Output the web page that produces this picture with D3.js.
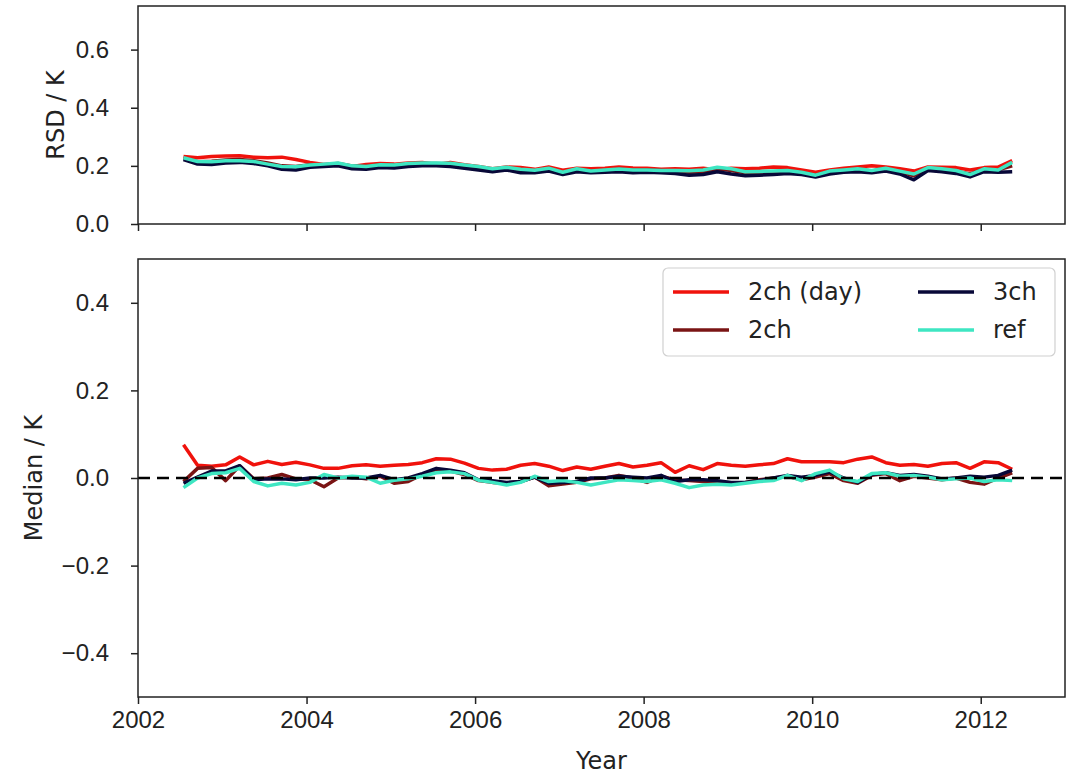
<!DOCTYPE html>
<html>
<head>
<meta charset="utf-8">
<script src="https://cdn.jsdelivr.net/npm/d3@7"></script>
<style>
  body { margin: 0; background: #fff; }
  svg { font-family: "DejaVu Sans", sans-serif; }
  .tick text { font-size: 24px; fill: #222; }
  .tick line { stroke: #222; stroke-width: 1.5; }
</style>
</head>
<body>
<div id="vis"></div>
<script>
// time axis: bimonthly samples from mid 2002 to spring 2012
const N_POINTS = 60;
const YEARS = d3.range(N_POINTS).map((i) => 2002.54 + i / 6);

const SERIES_NAMES = ["2ch (day)", "2ch", "3ch", "ref"];
const SERIES_COLORS = ["#f0120c", "#7a1414", "#080838", "#3ee6c2"];

// top panel: robust standard deviation (K)
const RSD_2CH_DAY = [0.232,0.228,0.232,0.234,0.235,0.230,0.228,0.230,0.222,0.212,
  0.205,0.202,0.198,0.205,0.208,0.206,0.210,0.212,0.205,0.212,
  0.204,0.198,0.190,0.196,0.194,0.188,0.196,0.185,0.192,0.190,
  0.192,0.196,0.193,0.192,0.188,0.190,0.188,0.192,0.186,0.192,
  0.190,0.192,0.196,0.194,0.186,0.178,0.186,0.192,0.196,0.200,
  0.196,0.190,0.182,0.196,0.195,0.194,0.186,0.194,0.196,0.218];
const RSD_2CH = [0.226,0.214,0.216,0.220,0.222,0.218,0.210,0.200,0.198,0.204,
  0.205,0.208,0.200,0.198,0.203,0.202,0.206,0.208,0.208,0.206,
  0.200,0.196,0.186,0.192,0.186,0.182,0.190,0.176,0.188,0.182,
  0.184,0.188,0.185,0.186,0.184,0.182,0.178,0.180,0.190,0.184,
  0.176,0.178,0.180,0.182,0.176,0.168,0.180,0.184,0.188,0.182,
  0.190,0.180,0.166,0.190,0.188,0.182,0.172,0.188,0.186,0.200];
const RSD_3CH = [0.222,0.206,0.205,0.210,0.212,0.208,0.200,0.188,0.186,0.195,
  0.198,0.200,0.190,0.188,0.194,0.193,0.198,0.200,0.200,0.198,
  0.192,0.186,0.180,0.186,0.176,0.176,0.182,0.170,0.180,0.176,
  0.178,0.180,0.176,0.178,0.176,0.174,0.168,0.170,0.180,0.172,
  0.166,0.168,0.170,0.174,0.170,0.162,0.172,0.178,0.180,0.176,
  0.182,0.172,0.152,0.184,0.180,0.174,0.162,0.180,0.178,0.180];
const RSD_REF = [0.228,0.215,0.214,0.218,0.218,0.215,0.206,0.198,0.197,0.203,
  0.206,0.210,0.200,0.198,0.204,0.203,0.208,0.210,0.210,0.209,
  0.203,0.198,0.190,0.195,0.188,0.185,0.192,0.178,0.190,0.182,
  0.186,0.189,0.186,0.186,0.184,0.184,0.183,0.186,0.195,0.190,
  0.180,0.181,0.182,0.184,0.178,0.168,0.182,0.186,0.190,0.184,
  0.192,0.182,0.172,0.194,0.190,0.184,0.170,0.190,0.186,0.212];

// bottom panel: median difference (K)
const MED_2CH_DAY = [0.076,0.029,0.027,0.030,0.048,0.030,0.038,0.031,0.036,0.030,
  0.022,0.022,0.028,0.030,0.027,0.029,0.031,0.035,0.044,0.043,
  0.034,0.022,0.018,0.020,0.029,0.033,0.027,0.017,0.025,0.020,
  0.027,0.033,0.025,0.029,0.035,0.013,0.028,0.019,0.033,0.029,
  0.027,0.030,0.033,0.044,0.037,0.037,0.037,0.035,0.043,0.048,
  0.035,0.029,0.031,0.027,0.033,0.035,0.022,0.037,0.035,0.020];
const MED_2CH = [-0.008,0.022,0.024,-0.006,0.028,-0.002,0.000,0.008,-0.002,-0.004,
  -0.020,0.000,0.002,-0.002,0.004,-0.012,-0.008,0.008,0.020,0.016,
  0.008,-0.006,-0.010,-0.012,-0.008,0.002,-0.018,-0.014,-0.010,-0.002,
  0.000,0.006,0.000,-0.010,0.004,-0.004,-0.006,-0.008,-0.012,-0.012,
  -0.010,-0.004,0.000,0.004,-0.004,0.002,0.010,-0.006,-0.012,0.006,
  0.010,-0.006,0.004,0.000,-0.004,0.000,-0.010,-0.014,0.000,0.012];
const MED_3CH = [-0.012,0.002,0.016,0.016,0.028,-0.004,-0.002,-0.002,-0.004,0.000,
  0.000,0.002,0.000,0.000,0.006,-0.004,0.000,0.010,0.022,0.018,
  0.012,-0.004,-0.006,-0.010,-0.008,0.002,-0.012,-0.010,-0.008,0.000,
  0.000,0.004,0.002,0.000,0.006,-0.008,-0.004,-0.004,-0.006,-0.010,
  -0.010,-0.006,0.000,0.006,0.002,0.006,0.014,0.000,-0.010,0.008,
  0.012,0.006,0.008,0.004,-0.002,0.000,0.004,0.002,0.006,0.018];
const MED_REF = [-0.022,0.000,0.010,0.012,0.022,-0.008,-0.018,-0.012,-0.016,-0.010,
  0.008,0.000,0.004,0.002,-0.012,-0.005,-0.002,0.004,0.012,0.014,
  0.010,-0.005,-0.010,-0.016,-0.010,0.004,-0.008,-0.006,-0.010,-0.016,
  -0.010,-0.004,-0.006,-0.008,-0.004,-0.012,-0.022,-0.016,-0.014,-0.016,
  -0.012,-0.008,-0.006,0.006,-0.006,0.010,0.018,-0.002,-0.008,0.010,
  0.012,0.004,0.006,0.002,-0.004,-0.002,0.000,-0.008,-0.004,-0.006];

const X_TICKS = [2002, 2004, 2006, 2008, 2010, 2012];
const RSD_TICKS = [0.0, 0.2, 0.4, 0.6];
const MED_TICKS = [-0.4, -0.2, 0.0, 0.2, 0.4];

// frame and panel placement
const FRAME_WIDTH = 1073;
const FRAME_HEIGHT = 774;
const LEFT = 138, RIGHT = 1065;
const TOP_PANEL = {top: 6, bottom: 224};
const BOT_PANEL = {top: 259, bottom: 697};
const FONT = "24px";

const svg = d3.select("#vis")
  .append("svg")
    .attr("width", FRAME_WIDTH)
    .attr("height", FRAME_HEIGHT);

const X_SCALE = d3.scaleLinear().domain([2002, 2013]).range([LEFT, RIGHT]);
const Y_RSD = d3.scaleLinear().domain([0, 0.75]).range([TOP_PANEL.bottom, TOP_PANEL.top]);
const Y_MED = d3.scaleLinear().domain([-0.5, 0.5]).range([BOT_PANEL.bottom, BOT_PANEL.top]);

function drawPanel(panel, yScale, yTicks, seriesList, showXLabels) {
  const g = svg.append("g");

  // clip to the panel
  const clipId = "clip" + panel.top;
  g.append("clipPath").attr("id", clipId)
    .append("rect")
      .attr("x", LEFT).attr("y", panel.top)
      .attr("width", RIGHT - LEFT).attr("height", panel.bottom - panel.top);

  const xAxis = d3.axisBottom(X_SCALE).tickValues(X_TICKS)
    .tickSize(7).tickPadding(7)
    .tickFormat(showXLabels ? d3.format("d") : () => "");
  g.append("g")
    .attr("transform", "translate(0," + panel.bottom + ")")
    .call(xAxis)
    .call((a) => a.select(".domain").remove());

  const yAxis = d3.axisLeft(yScale).tickValues(yTicks)
    .tickSize(7).tickPadding(22)
    .tickFormat(d3.format(".1f"));
  g.append("g")
    .attr("transform", "translate(" + LEFT + ",0)")
    .call(yAxis)
    .call((a) => a.select(".domain").remove());

  const plot = g.append("g").attr("clip-path", "url(#" + clipId + ")");

  const line = d3.line()
    .x((d, i) => X_SCALE(YEARS[i]))
    .y((d) => yScale(d));

  seriesList.forEach((vals, k) => {
    plot.append("path")
      .datum(vals)
      .attr("d", line)
      .attr("fill", "none")
      .attr("stroke", SERIES_COLORS[k])
      .attr("stroke-width", 3.5)
      .attr("stroke-linejoin", "round");
  });

  return {g: g, plot: plot};
}

const topPanel = drawPanel(TOP_PANEL, Y_RSD, RSD_TICKS,
  [RSD_2CH_DAY, RSD_2CH, RSD_3CH, RSD_REF], false);
const botPanel = drawPanel(BOT_PANEL, Y_MED, MED_TICKS,
  [MED_2CH_DAY, MED_2CH, MED_3CH, MED_REF], true);

// dashed zero line in bottom panel
botPanel.plot.append("line")
  .attr("x1", LEFT).attr("x2", RIGHT)
  .attr("y1", Y_MED(0)).attr("y2", Y_MED(0))
  .attr("stroke", "#000")
  .attr("stroke-width", 2.5)
  .attr("stroke-dasharray", "12,7");

// panel frames
[TOP_PANEL, BOT_PANEL].forEach((p) => {
  svg.append("rect")
    .attr("x", LEFT).attr("y", p.top)
    .attr("width", RIGHT - LEFT).attr("height", p.bottom - p.top)
    .attr("fill", "none")
    .attr("stroke", "#222")
    .attr("stroke-width", 1.5);
});

// axis labels
svg.append("text")
  .attr("transform", "translate(64," + ((TOP_PANEL.top + TOP_PANEL.bottom) / 2) + ") rotate(-90)")
  .attr("text-anchor", "middle")
  .attr("font-size", FONT).attr("fill", "#222")
  .text("RSD / K");

svg.append("text")
  .attr("transform", "translate(42," + ((BOT_PANEL.top + BOT_PANEL.bottom) / 2) + ") rotate(-90)")
  .attr("text-anchor", "middle")
  .attr("font-size", FONT).attr("fill", "#222")
  .text("Median / K");

svg.append("text")
  .attr("x", (LEFT + RIGHT) / 2)
  .attr("y", 769)
  .attr("text-anchor", "middle")
  .attr("font-size", FONT).attr("fill", "#222")
  .text("Year");

// legend, two columns filled top to bottom
const legend = svg.append("g");
legend.append("rect")
  .attr("x", 663).attr("y", 268)
  .attr("width", 392).attr("height", 88)
  .attr("rx", 5)
  .attr("fill", "#fff").attr("fill-opacity", 0.85)
  .attr("stroke", "#d0d0d0").attr("stroke-width", 1.2);

SERIES_NAMES.forEach((name, k) => {
  const col = Math.floor(k / 2), row = k % 2;
  const x0 = 673 + col * 245;
  const y0 = 292 + row * 38;
  legend.append("line")
    .attr("x1", x0).attr("x2", x0 + 56)
    .attr("y1", y0).attr("y2", y0)
    .attr("stroke", SERIES_COLORS[k])
    .attr("stroke-width", 3.5);
  legend.append("text")
    .attr("x", x0 + 75).attr("y", y0 + 8)
    .attr("font-size", FONT).attr("fill", "#222")
    .text(name);
});
</script>
</body>
</html>
